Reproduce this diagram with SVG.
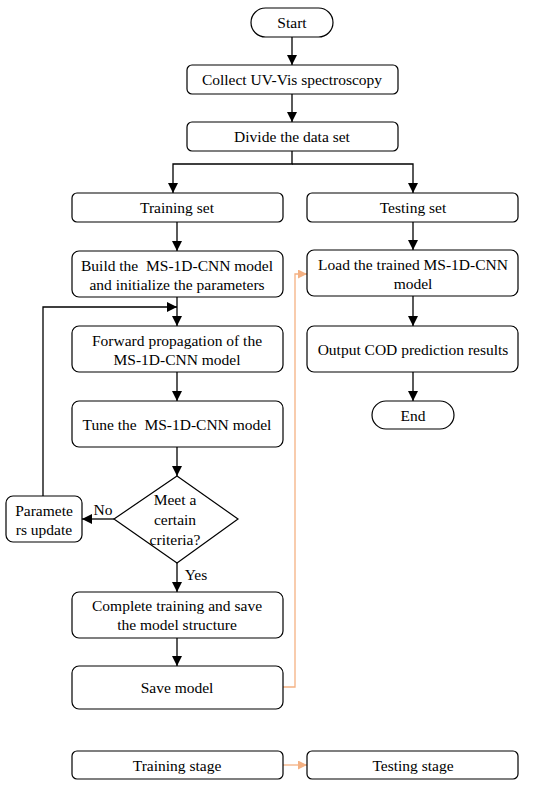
<svg xmlns="http://www.w3.org/2000/svg" width="550" height="787" viewBox="0 0 550 787">
<style>
.box{fill:#fff;stroke:#000;stroke-width:1.2}
text{font-family:'Liberation Serif','DejaVu Serif',serif;font-size:15.5px;fill:#000;text-anchor:middle}
.c{fill:none;stroke:#000;stroke-width:1.3}
.o{fill:none;stroke:#F4B183;stroke-width:1.3}
</style>
<defs>
<marker id="ah" viewBox="0 0 10 10" refX="10" refY="5" markerWidth="10" markerHeight="10" markerUnits="userSpaceOnUse" orient="auto"><path d="M0,0 L10,5 L0,10 z" fill="#000"/></marker>
<marker id="ao" viewBox="0 0 10 10" refX="10" refY="5" markerWidth="9" markerHeight="9" markerUnits="userSpaceOnUse" orient="auto"><path d="M0,0 L10,5 L0,10 z" fill="#F4B183"/></marker>
</defs>
<rect width="550" height="787" fill="#fff"/>
<g id="connectors">
<path class="c" d="M292,37 V65" marker-end="url(#ah)"/>
<path class="c" d="M292,94 V122" marker-end="url(#ah)"/>
<path class="c" d="M292,151 V164 H173 V193" marker-end="url(#ah)"/>
<path class="c" d="M292,164 H413 V193" marker-end="url(#ah)"/>
<path class="c" d="M177,222 V251" marker-end="url(#ah)"/>
<path class="c" d="M413,222 V250" marker-end="url(#ah)"/>
<path class="c" d="M177,297 V326" marker-end="url(#ah)"/>
<path class="c" d="M43,496 V307 H177" marker-end="url(#ah)"/>
<path class="c" d="M413,296 V326" marker-end="url(#ah)"/>
<path class="c" d="M177,372 V401" marker-end="url(#ah)"/>
<path class="c" d="M413,372 V401" marker-end="url(#ah)"/>
<path class="c" d="M177,447 V476" marker-end="url(#ah)"/>
<path class="c" d="M114,519 H82" marker-end="url(#ah)"/>
<path class="c" d="M177,563 V592" marker-end="url(#ah)"/>
<path class="c" d="M177,638 V666" marker-end="url(#ah)"/>
<path class="o" d="M283,687 H295 V274 H307" marker-end="url(#ao)"/>
<path class="o" d="M283,765 H307" marker-end="url(#ao)"/>
<text x="103" y="515" font-size="15">No</text>
<text x="196" y="580" font-size="15">Yes</text>
</g>
<g id="start"><rect class="box" x="251" y="8" width="82" height="29" rx="14.5"/><text x="292" y="28">Start</text></g>
<g id="collect"><rect class="box" x="187" y="65" width="211" height="29" rx="5"/><text x="292" y="85">Collect UV-Vis spectroscopy</text></g>
<g id="divide"><rect class="box" x="187" y="122" width="211" height="29" rx="5"/><text x="292" y="142">Divide the data set</text></g>
<g id="training"><rect class="box" x="72" y="193" width="211" height="29" rx="5"/><text x="177" y="213">Training set</text></g>
<g id="testing"><rect class="box" x="307" y="193" width="211" height="29" rx="5"/><text x="413" y="213">Testing set</text></g>
<g id="build"><rect class="box" x="72" y="251" width="211" height="46" rx="7"/><text x="177" y="271">Build the&#160; MS-1D-CNN model</text><text x="177" y="290">and initialize the parameters</text></g>
<g id="load"><rect class="box" x="307" y="250" width="211" height="46" rx="7"/><text x="413" y="270">Load the trained MS-1D-CNN</text><text x="413" y="289">model</text></g>
<g id="forward"><rect class="box" x="72" y="326" width="211" height="46" rx="7"/><text x="177" y="346">Forward propagation of the</text><text x="177" y="365">MS-1D-CNN model</text></g>
<g id="output"><rect class="box" x="307" y="326" width="211" height="46" rx="7"/><text x="413" y="355">Output COD prediction results</text></g>
<g id="tune"><rect class="box" x="72" y="401" width="211" height="46" rx="7"/><text x="177" y="430">Tune the&#160; MS-1D-CNN model</text></g>
<g id="end"><rect class="box" x="372" y="401" width="82" height="28" rx="14"/><text x="413" y="421">End</text></g>
<g id="decision"><path class="box" d="M177,476 L238,519 L177,563 L114,519 Z"/><text x="175" y="505">Meet a</text><text x="175" y="525">certain</text><text x="175" y="545">criteria?</text></g>
<g id="params"><rect class="box" x="6" y="496" width="76" height="46" rx="7"/><text x="44" y="516">Paramete</text><text x="44" y="535">rs update</text></g>
<g id="complete"><rect class="box" x="72" y="592" width="211" height="46" rx="7"/><text x="177" y="611">Complete training and save</text><text x="177" y="630">the model structure</text></g>
<g id="save"><rect class="box" x="72" y="666" width="211" height="43" rx="7"/><text x="177" y="693">Save model</text></g>
<g id="legend-training"><rect class="box" x="72" y="751" width="211" height="28" rx="5"/><text x="177" y="771">Training stage</text></g>
<g id="legend-testing"><rect class="box" x="307" y="751" width="211" height="28" rx="5"/><text x="413" y="771">Testing stage</text></g>
</svg>
